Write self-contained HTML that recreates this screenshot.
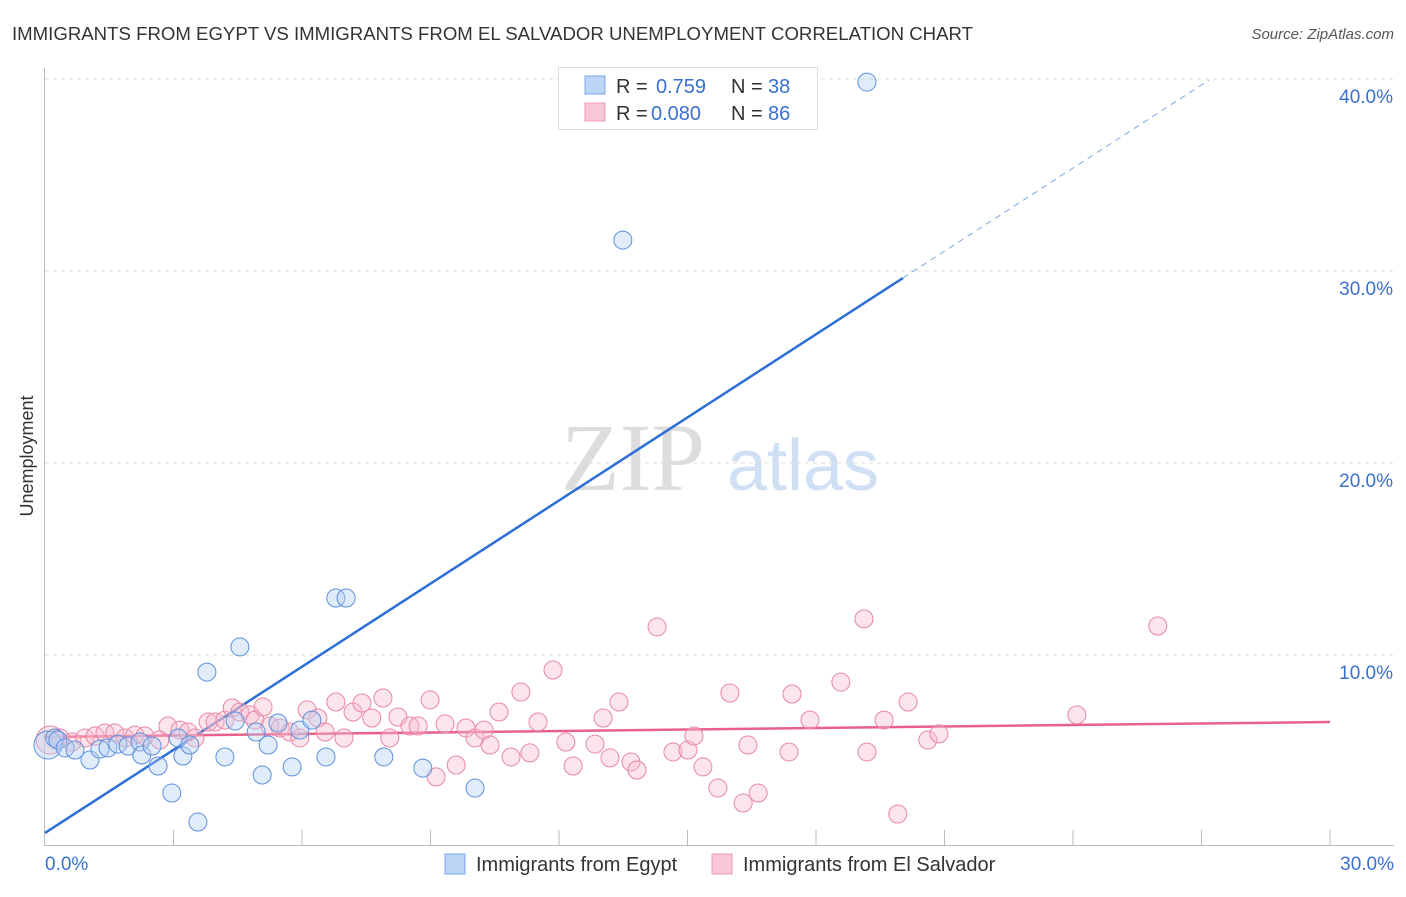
<!DOCTYPE html>
<html><head><meta charset="utf-8"><style>
body{margin:0;background:#fff;font-family:"Liberation Sans",sans-serif;}
svg text{font-family:"Liberation Sans",sans-serif;}
</style></head><body>
<svg id="chart" width="1406" height="892" viewBox="0 0 1406 892">
<text x="12" y="40" font-size="18" fill="#333" textLength="961" lengthAdjust="spacingAndGlyphs">IMMIGRANTS FROM EGYPT VS IMMIGRANTS FROM EL SALVADOR UNEMPLOYMENT CORRELATION CHART</text>
<text x="1394" y="39" font-size="15" fill="#555" font-style="italic" text-anchor="end">Source: ZipAtlas.com</text>
<text x="33" y="456" font-size="18" fill="#333" text-anchor="middle" transform="rotate(-90 33 456)">Unemployment</text>
<g>
<text x="633" y="490" font-size="96" fill="#ddd" text-anchor="middle" style="font-family:'Liberation Serif',serif">ZIP</text>
<text x="803" y="490" font-size="72" fill="#cfe0f5" text-anchor="middle">atlas</text>
</g>
<g id="grid"></g>
<g id="axes"></g>
<g id="lines"></g>
<g id="points"></g>
<g>
<rect x="558.5" y="67.5" width="259" height="62" fill="#fff" stroke="#ddd"/>
<rect x="585" y="76" width="20" height="18" fill="#bcd4f5" stroke="#7aa6e6"/>
<rect x="585" y="103" width="20" height="18" fill="#f9c8d6" stroke="#ee9ab3"/>
<text x="616" y="93" font-size="20" fill="#333">R = </text><text x="656" y="93" font-size="20" fill="#3a70d0">0.759</text>
<text x="731" y="93" font-size="20" fill="#333">N = </text><text x="768" y="93" font-size="20" fill="#3a70d0">38</text>
<text x="616" y="120" font-size="20" fill="#333">R = </text><text x="651" y="120" font-size="20" fill="#3a70d0">0.080</text>
<text x="731" y="120" font-size="20" fill="#333">N = </text><text x="768" y="120" font-size="20" fill="#3a70d0">86</text>
</g>
<g>
<rect x="445" y="854" width="20" height="20" fill="#bcd4f5" stroke="#7aa6e6"/>
<text x="476" y="871" font-size="20" fill="#333">Immigrants from Egypt</text>
<rect x="712" y="854" width="20" height="20" fill="#f9c8d6" stroke="#ee9ab3"/>
<text x="743" y="871" font-size="20" fill="#333">Immigrants from El Salvador</text>
</g>
</svg>
<script>
const yTicks=[10,20,30,40];
const yTickLabels=["10.0%","20.0%","30.0%","40.0%"];
const xTickLabels=["0.0%","30.0%"];
const egyptX=[0.07,0.23,0.30,0.47,0.70,1.05,1.28,1.47,1.70,1.94,2.22,2.26,2.50,2.64,2.96,3.11,3.22,3.38,3.57,3.78,4.20,4.44,4.55,4.93,5.07,5.21,5.44,5.77,5.95,6.23,6.56,6.79,7.03,7.91,8.82,10.04,13.49,19.19];
const egyptY=[5.31,5.68,5.57,5.16,5.05,4.53,5.10,5.16,5.36,5.26,5.47,4.79,5.26,4.22,2.81,5.68,4.74,5.31,1.30,9.11,4.69,6.56,10.42,5.99,3.75,5.31,6.46,4.17,6.09,6.61,4.69,12.97,12.97,4.69,4.11,3.07,31.61,39.84];
const salvX=[0.12,0.35,0.63,0.93,1.17,1.40,1.63,1.87,2.10,2.33,2.68,2.87,3.15,3.34,3.50,3.81,3.97,4.20,4.37,4.55,4.79,4.90,5.09,5.25,5.49,5.72,5.95,6.12,6.37,6.54,6.79,6.98,7.19,7.40,7.63,7.89,8.05,8.24,8.52,8.71,8.99,9.13,9.34,9.60,9.83,10.04,10.25,10.39,10.60,10.88,11.11,11.32,11.51,11.86,12.16,12.33,12.84,13.03,13.19,13.40,13.68,13.82,14.29,14.66,15.01,15.15,15.36,15.71,15.99,16.30,16.41,16.65,17.37,17.44,17.86,18.58,19.12,19.19,19.59,19.91,20.15,20.61,20.87,24.09,25.98];
const salvY=[5.57,5.68,5.47,5.68,5.78,5.94,5.94,5.68,5.83,5.78,5.57,6.30,6.09,5.99,5.68,6.51,6.51,6.61,7.24,7.03,6.88,6.61,7.29,6.30,6.20,5.99,5.68,7.14,6.72,5.99,7.55,5.68,7.03,7.50,6.72,7.76,5.68,6.77,6.30,6.30,7.66,3.65,6.41,4.27,6.20,5.68,6.09,5.31,7.03,4.69,8.07,4.90,6.51,9.22,5.47,4.22,5.36,6.72,4.64,7.55,4.43,4.01,11.46,4.95,5.05,5.78,4.17,3.07,8.02,2.29,5.31,2.81,4.95,7.97,6.61,8.59,11.88,4.95,6.61,1.72,7.55,5.57,5.89,6.88,11.51];
const egyptFit=[0.73,1.443];
const egyptFitEnd=[20.03,27.17];
const salvFit=[5.73,0.026];
const NS="http://www.w3.org/2000/svg";
const X=v=>45+v/30*1285, Y=v=>847-v*19.2;
function mk(tag,attrs,parent){const e=document.createElementNS(NS,tag);for(const k in attrs)e.setAttribute(k,attrs[k]);parent.appendChild(e);return e;}
const grid=document.getElementById('grid'),axes=document.getElementById('axes'),lines=document.getElementById('lines'),pts=document.getElementById('points');
yTicks.forEach((t,i)=>{
 const l=mk('line',{x1:45,x2:1394,y1:Y(t),y2:Y(t),stroke:'#ddd','stroke-dasharray':'4,4'},grid);
 
 
 const tx=mk('text',{x:1393,y:Y(t)+24,'font-size':19,fill:'#3a70d0','text-anchor':'end'},axes);
 tx.textContent=yTickLabels[i];
 
 
});
mk('line',{x1:44.5,x2:44.5,y1:68,y2:845,stroke:'#bbb'},axes);
mk('line',{x1:44,x2:1394,y1:845.5,y2:845.5,stroke:'#bbb'},axes);
for(let i=1;i<=10;i++){const x=X(i*3);const t=mk('line',{x1:x,x2:x,y1:830,y2:845,stroke:'#bbb'},axes);
 
 }
const xl0=mk('text',{x:45,y:870,'font-size':19,fill:'#3a70d0'},axes);xl0.textContent=xTickLabels[0];


const xl1=mk('text',{x:1394,y:870,'font-size':19,fill:'#3a70d0','text-anchor':'end'},axes);xl1.textContent=xTickLabels[1];


function drawPts(xs,ys,fill,stroke,name){xs.forEach((x,i)=>{const r=i===0?14:9;
 const c=mk('circle',{cx:X(x),cy:Y(ys[i]),r:r,fill:fill,stroke:stroke,'stroke-width':1,'fill-opacity':0.4},pts);
 
 });}
drawPts(salvX,salvY,'#f7bccd','#e886a6','point-el-salvador');
drawPts(egyptX,egyptY,'#b4cff2','#5b8fdc','point-egypt');
const f=(fit,x)=>fit[0]+fit[1]*x;
const bl=mk('line',{x1:X(0),y1:Y(f(egyptFit,0)),x2:X(egyptFitEnd[0]),y2:Y(f(egyptFit,egyptFitEnd[0])),stroke:'#2c6fd6','stroke-width':2.5},lines);


const bd=mk('line',{x1:X(egyptFitEnd[0]),y1:Y(f(egyptFit,egyptFitEnd[0])),x2:X(egyptFitEnd[1]),y2:Y(f(egyptFit,egyptFitEnd[1])),stroke:'#7aa6e6','stroke-width':1,'stroke-dasharray':'6,5'},lines);


const pl=mk('line',{x1:X(0),y1:Y(f(salvFit,0)),x2:X(30),y2:Y(f(salvFit,30)),stroke:'#e8608a','stroke-width':2.5},lines);


</script>
</body></html>
